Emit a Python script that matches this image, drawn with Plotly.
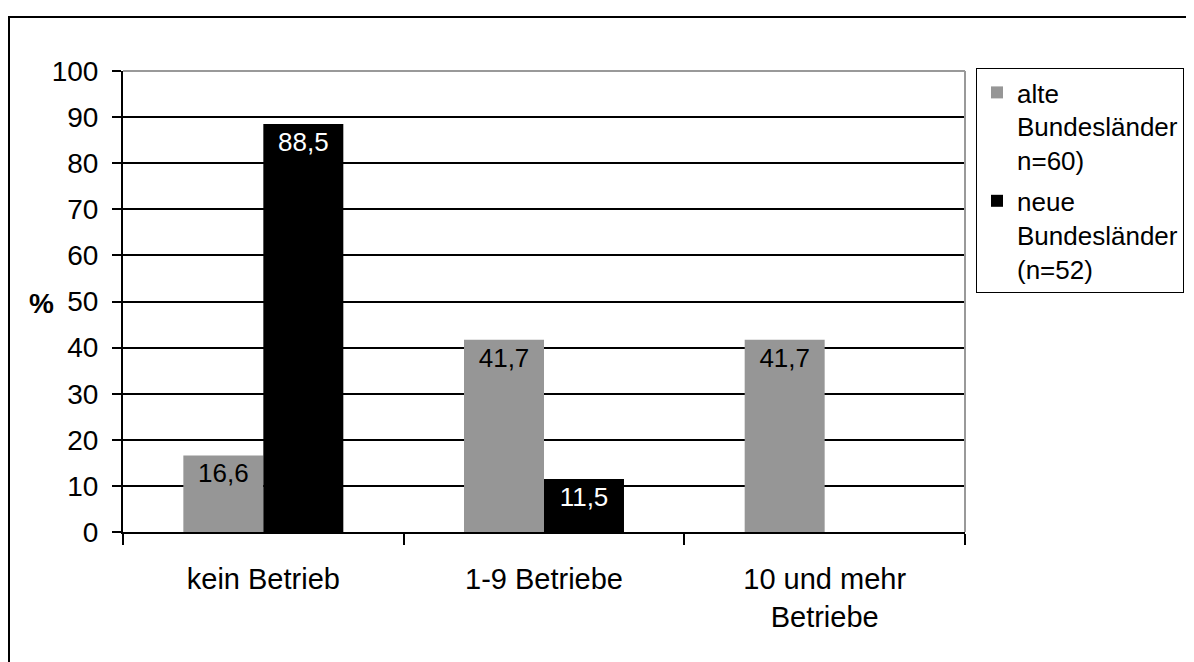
import plotly.graph_objects as go

categories = ["kein Betrieb", "1-9 Betriebe", "10 und mehr<br>Betriebe"]
alte = [16.6, 41.7, 41.7]
neue = [88.5, 11.5, None]
series_names = ["alte<br>Bundesländer<br>n=60)", "neue<br>Bundesländer<br>(n=52)"]
y_ticks = list(range(0, 101, 10))

FONT = "Liberation Sans, Arial, sans-serif"
OFF = 8  # page body margin
W, H = 1194 - OFF, 662 - OFF
# plot area in window pixels
L, R, T, B = 123 - OFF, 965 - OFF, 71 - OFF, 532 - OFF

def px(x):
    return (x - OFF - L) / (R - L)

def py(y):
    return (B - (y - OFF)) / (B - T)

fig = go.Figure()
fig.add_trace(go.Bar(
    x=categories, y=alte, name=series_names[0], legendgroup="a",
    marker=dict(color="#969696", line=dict(width=0)),
    texttemplate="%{y:.1f}", textposition="inside", insidetextanchor="end",
    textangle=0, constraintext="none",
    textfont=dict(color="black", size=26, family=FONT),
))
fig.add_trace(go.Bar(
    x=categories, y=neue, name=series_names[1], legendgroup="b",
    marker=dict(color="black", line=dict(width=0)),
    texttemplate="%{y:.1f}", textposition="inside", insidetextanchor="end",
    textangle=0, constraintext="none",
    textfont=dict(color="white", size=26, family=FONT),
))

fig.update_layout(
    width=W, height=H,
    margin=dict(l=L, r=W - R, t=T, b=H - B, autoexpand=False),
    paper_bgcolor="white", plot_bgcolor="white",
    separators=", ",
    barmode="group", bargap=0.43, bargroupgap=0,
    font=dict(family=FONT, size=26, color="black"),
    showlegend=True,
    legend=dict(
        x=px(976), y=py(68), xanchor="left", yanchor="top",
        bgcolor="white", bordercolor="black", borderwidth=1,
        font=dict(size=26, family=FONT, color="black"),
        valign="top", traceorder="grouped", tracegroupgap=4,
        itemwidth=30,
    ),
    xaxis=dict(
        type="category", showline=True, linecolor="black", linewidth=2,
        ticks="outside", tickson="boundaries", ticklen=11, tickcolor="black", tickwidth=2,
        showgrid=False, tickfont=dict(size=29, family=FONT, color="black"),
        ticklabelstandoff=20,
    ),
    yaxis=dict(
        range=[0, 100], tickvals=y_ticks, showline=True, linecolor="black", linewidth=2,
        ticks="outside", ticklen=9, tickcolor="black", tickwidth=2,
        showgrid=True, gridcolor="black", gridwidth=1.5, zeroline=False,
        tickfont=dict(size=28, family=FONT, color="black"),
        ticklabelstandoff=8,
    ),
    shapes=[
        dict(type="line", xref="paper", yref="paper", x0=0, x1=1, y0=1, y1=1,
             line=dict(color="#999999", width=2)),
        dict(type="line", xref="paper", yref="paper", x0=1, x1=1, y0=0, y1=1,
             line=dict(color="#999999", width=2)),
        dict(type="rect", xref="paper", yref="paper",
             x0=px(9), x1=px(1230), y0=py(700), y1=py(17),
             line=dict(color="black", width=2)),
    ],
    annotations=[
        dict(text="<b>%</b>", xref="paper", yref="paper", x=px(56), y=py(303),
             xanchor="right", showarrow=False,
             font=dict(size=28, family=FONT, color="black")),
    ],
)

fig.write_html("out.html")
